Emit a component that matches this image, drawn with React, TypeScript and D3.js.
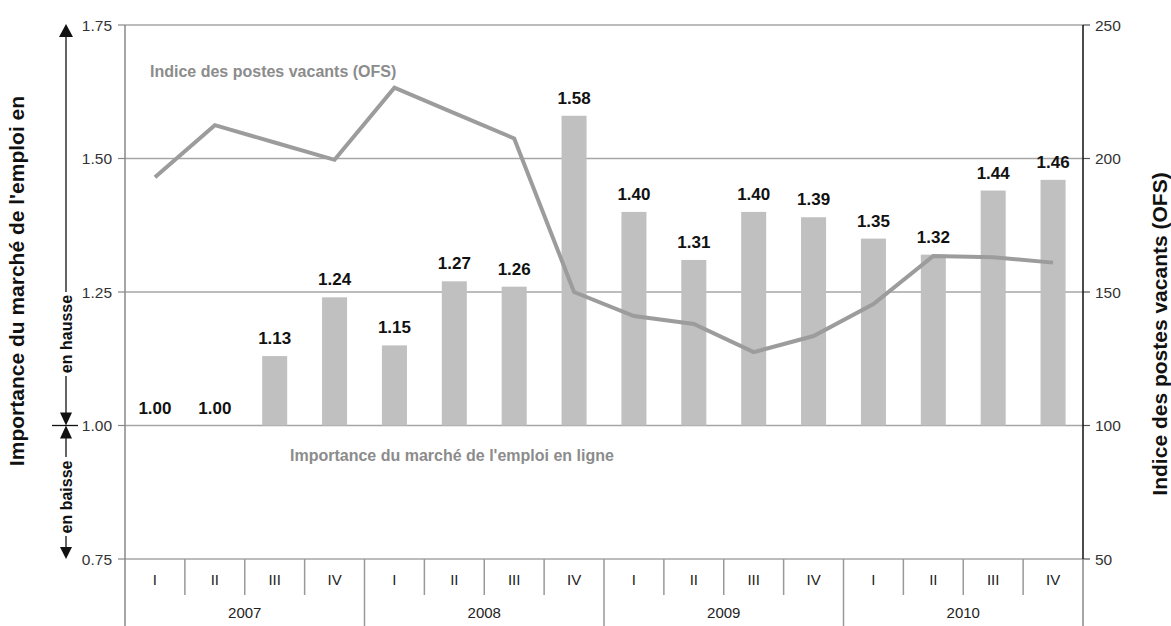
import React from "react";
import * as d3 from "d3";

const quarters = ["I", "II", "III", "IV"];
const years = ["2007", "2008", "2009", "2010"];
const marketValues = [1.0, 1.0, 1.13, 1.24, 1.15, 1.27, 1.26, 1.58, 1.4, 1.31, 1.4, 1.39, 1.35, 1.32, 1.44, 1.46];
const vacancyIndex = [193, 212.5, 206, 199.5, 226.5, 217, 207.5, 150, 141, 138, 127.5, 133.5, 145.5, 163.5, 163, 161];
const leftTicks = [0.75, 1.0, 1.25, 1.5, 1.75];
const rightTicks = [50, 100, 150, 200, 250];

const W = 1171;
const H = 626;
const font = "Arial, 'Liberation Sans', Helvetica, sans-serif";

const App = () => {
  const margin = { left: 125, right: 1083, top: 25, bottom: 559 };
  const cats = d3.range(16);
  const x = d3.scaleBand<number>().domain(cats).range([margin.left, margin.right]).padding(0);
  const barW = 25;
  const yL = d3.scaleLinear().domain([0.75, 1.75]).range([margin.bottom, margin.top]);
  const yR = d3.scaleLinear().domain([50, 250]).range([margin.bottom, margin.top]);

  const line = d3
    .line<number>()
    .x((_, i) => x(i)! + x.bandwidth() / 2)
    .y((d) => yR(d));

  const bw = x.bandwidth();
  const base = yL(1);
  const ax = 66;

  return (
    <svg width={W} height={H} style={{ position: "absolute", left: 0, top: 0, background: "#fff", fontFamily: font }}>
      {/* grid */}
      {leftTicks.map((t) => (
        <g key={t}>
          <line x1={margin.left} x2={margin.right} y1={yL(t)} y2={yL(t)} stroke="#a6a6a6" strokeWidth={1.5} />
          <line x1={margin.left - 7} x2={margin.left} y1={yL(t)} y2={yL(t)} stroke="#888" strokeWidth={1.2} />
          <text x={margin.left - 13} y={yL(t) + 5.5} textAnchor="end" fontSize={15.5} fill="#333">
            {d3.format(".2f")(t)}
          </text>
        </g>
      ))}
      {rightTicks.map((t) => (
        <g key={t}>
          <line x1={margin.right} x2={margin.right + 7} y1={yR(t)} y2={yR(t)} stroke="#555" strokeWidth={1.2} />
          <text x={margin.right + 12} y={yR(t) + 5.5} textAnchor="start" fontSize={15.5} fill="#333">
            {t}
          </text>
        </g>
      ))}

      {/* bars */}
      {marketValues.map((v, i) => {
        const cx = x(i)! + bw / 2;
        const top = yL(v);
        return (
          <g key={i}>
            <rect x={cx - barW / 2} y={Math.min(top, base)} width={barW} height={Math.abs(base - top)} fill="#c0c0c0" />
            <text x={cx} y={top - 12} textAnchor="middle" fontSize={17} fontWeight="bold" fill="#111">
              {d3.format(".2f")(v)}
            </text>
          </g>
        );
      })}

      {/* line */}
      <path d={line(vacancyIndex)!} fill="none" stroke="#9c9c9c" strokeWidth={4} strokeLinejoin="miter" />

      {/* series labels */}
      <text x={150} y={77} fontSize={16} fontWeight="bold" fill="#8c8c8c">
        Indice des postes vacants (OFS)
      </text>
      <text x={290} y={461} fontSize={16} fontWeight="bold" fill="#8c8c8c">
        Importance du marché de l'emploi en ligne
      </text>

      {/* axes */}
      <line x1={margin.left} x2={margin.left} y1={margin.top} y2={H} stroke="#888" strokeWidth={1.5} />
      <line x1={margin.right} x2={margin.right} y1={margin.top} y2={margin.bottom} stroke="#111" strokeWidth={1.5} />
      <line x1={margin.right} x2={margin.right} y1={margin.bottom} y2={H} stroke="#888" strokeWidth={1.5} />

      {/* category axis */}
      {cats.map((i) => {
        const isYear = i % 4 === 0;
        return (
          <g key={i}>
            {i > 0 && (
              <line x1={x(i)} x2={x(i)} y1={margin.bottom} y2={isYear ? H : 595} stroke="#999" strokeWidth={1.5} />
            )}
            <text x={x(i)! + bw / 2} y={585} textAnchor="middle" fontSize={15} fill="#222">
              {quarters[i % 4]}
            </text>
          </g>
        );
      })}
      {years.map((yr, j) => (
        <text key={yr} x={x(j * 4)! + bw * 2} y={618} textAnchor="middle" fontSize={15} fill="#222">
          {yr}
        </text>
      ))}

      {/* axis titles */}
      <text transform="translate(24,281) rotate(-90)" textAnchor="middle" fontSize={21} fontWeight="bold" fill="#111">
        Importance du marché de l'emploi en
      </text>
      <text transform="translate(1167,334) rotate(-90)" textAnchor="middle" fontSize={21} fontWeight="bold" fill="#111">
        Indice des postes vacants (OFS)
      </text>

      {/* direction arrows */}
      <g stroke="#111" strokeWidth={1.3} fill="#111">
        <line x1={ax} x2={ax} y1={margin.top + 10} y2={292} />
        <line x1={ax} x2={ax} y1={376} y2={base - 12} />
        <line x1={ax} x2={ax} y1={base + 12} y2={457} />
        <line x1={ax} x2={ax} y1={536} y2={margin.bottom - 10} />
        <line x1={52} x2={78} y1={base} y2={base} />
        <path d={`M${ax - 7},${margin.top + 12} L${ax + 7},${margin.top + 12} L${ax},${margin.top - 1} Z`} stroke="none" />
        <path d={`M${ax - 6},${base - 13} L${ax + 6},${base - 13} L${ax},${base} Z`} stroke="none" />
        <path d={`M${ax - 6},${base + 13} L${ax + 6},${base + 13} L${ax},${base} Z`} stroke="none" />
        <path d={`M${ax - 6},${margin.bottom - 12} L${ax + 6},${margin.bottom - 12} L${ax},${margin.bottom} Z`} stroke="none" />
      </g>
      <text transform="translate(72,334) rotate(-90)" textAnchor="middle" fontSize={16} fontWeight="bold" fill="#111">
        en hausse
      </text>
      <text transform="translate(72,497) rotate(-90)" textAnchor="middle" fontSize={16} fontWeight="bold" fill="#111">
        en baisse
      </text>
    </svg>
  );
};

export default App;
